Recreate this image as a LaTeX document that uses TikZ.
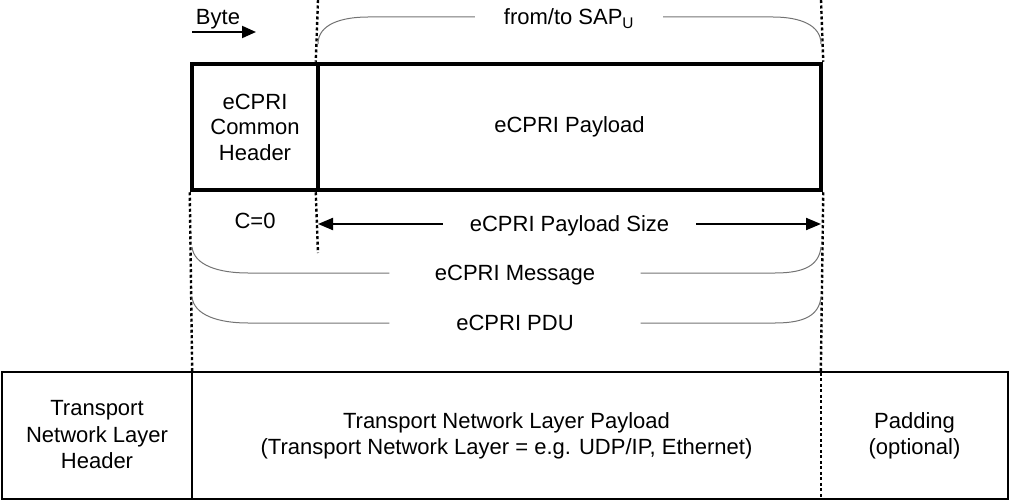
\documentclass[tikz,border=0pt]{standalone}
\usepackage{fontspec}
\setmainfont{Liberation Sans}
\usepackage{tikz}
\usetikzlibrary{arrows.meta,positioning,calc}
\tikzset{hdr/.style={draw, line width=4.5pt, inner sep=0pt, align=center, minimum height=126pt},
tnl/.style={inner sep=0pt, align=center, minimum height=126pt,
font=\fontsize{22}{26.5}\selectfont},
lbl/.style={inner sep=0pt, text height=15.8pt, text depth=0pt},
guide/.style={line width=2.4pt, dash pattern=on 3pt off 2.5pt},
brace/.style={draw=gray!90!black, line width=1pt},
size arrow/.style={line width=2pt, -{Triangle[length=15pt,width=12pt]}}}

\begin{document}
\begin{tikzpicture}[x=1pt, y=-1pt, font=\fontsize{22}{25.5}\selectfont]
        \useasboundingbox (0,0) rectangle (1011,503);

        \node[hdr, minimum width=126pt] (ch) at (255,127) {eCPRI\\Common\\Header};
        \node[hdr, minimum width=503pt] (pl) at (569.5,127) {eCPRI Payload};

        \node[tnl, minimum width=190pt] (tnh) at (97,435) {Transport\\Network Layer\\Header};
        \node[tnl, minimum width=629pt] (tnp) at (506.5,436) {Transport Network Layer Payload\\(Transport Network Layer = e.g. UDP/IP, Ethernet)};
        \node[tnl, minimum width=187pt] (pad) at (914.5,436) {Padding\\(optional)};
        \draw[line width=2.2pt] (tnh.north west) rectangle (pad.south east);
        \draw[line width=2.2pt] (tnh.north east) -- (tnh.south east);
        \draw[guide] (pad.north west) -- (pad.south west);

        \node[lbl] (byte) at (218,16.5) {Byte};
        \coordinate (b0) at (192,32);
        \coordinate (b1) at (256,32);
        \draw[line width=2pt, -{Triangle[length=14pt,width=12pt]}] (b0) -- (b1);

        \coordinate (t0) at (318,0);
        \coordinate (t1) at (821,0);
        \coordinate (s0) at (318,253);
        \draw[guide] (t0) -- (pl.north west)
                     (pl.south west) -- (s0)
                     (ch.south west) -- (tnh.north east)
                     (t1) -- (pl.north east)
                     (pl.south east) -- (pad.north west);

        \node[lbl, minimum width=188pt] (sap) at (569,17) {from/to SAP\textsubscript{U}};
        \draw[brace] (318,44) .. controls (318,24) and (342,17) .. (368,17) -- (sap.west)
                     (sap.east) -- (773,17) .. controls (800,17) and (821,25) .. (821,44);

        \node[lbl] (c0) at (255,220.5) {C=0};
        \node[lbl, minimum width=253pt] (size) at (569.5,224) {eCPRI Payload Size};
        \coordinate (p0) at (318,224);
        \coordinate (p1) at (821,224);
        \draw[size arrow] (size.west) -- (p0);
        \draw[size arrow] (size.east) -- (p1);

        \node[lbl, minimum width=251pt] (msg) at (515,273) {eCPRI Message};
        \draw[brace] (192,247) .. controls (194,265) and (218,273) .. (248,273) -- (msg.west)
                     (msg.east) -- (775,273) .. controls (805,273) and (819,265) .. (821,247);

        \node[lbl, minimum width=251pt] (pdu) at (515,323) {eCPRI PDU};
        \draw[brace] (192,297) .. controls (194,315) and (218,323) .. (248,323) -- (pdu.west)
                     (pdu.east) -- (775,323) .. controls (805,323) and (819,315) .. (821,297);
\end{tikzpicture}
\end{document}
